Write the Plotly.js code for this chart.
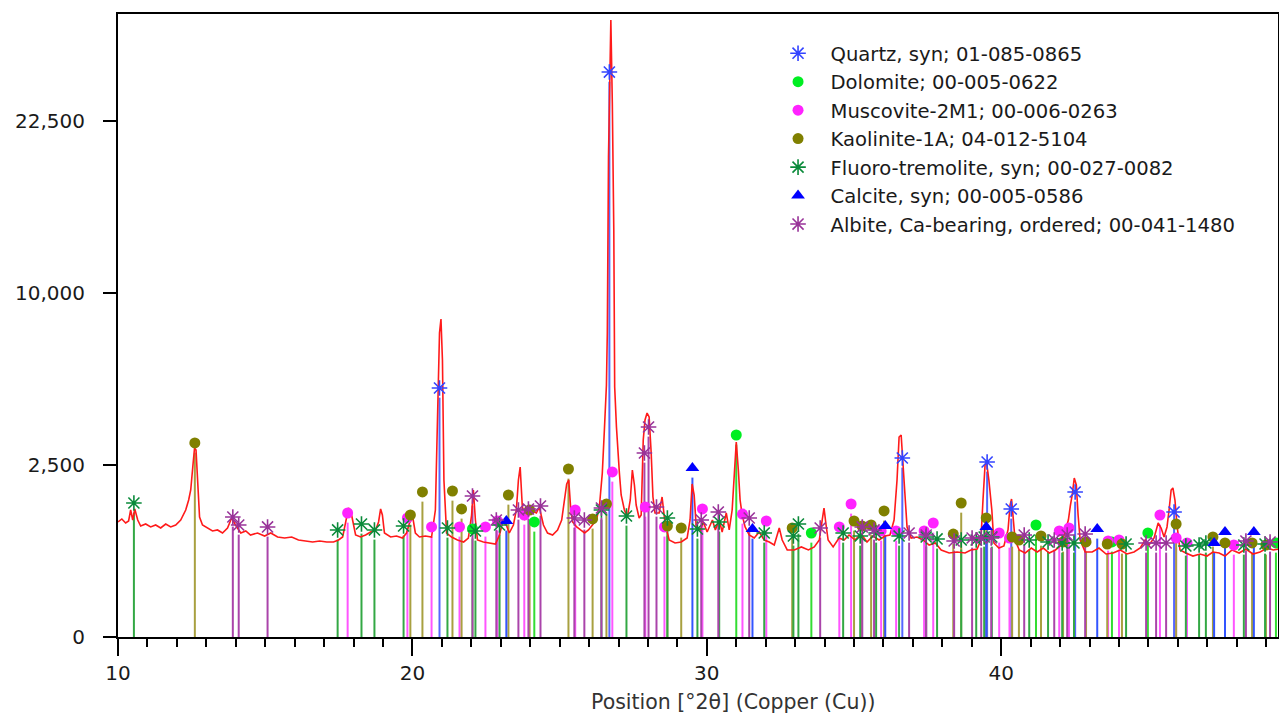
<!DOCTYPE html>
<html><head><meta charset="utf-8">
<script src="https://cdn.plot.ly/plotly-3.0.1.min.js"></script>
<style>html,body{margin:0;padding:0;background:#fff}#chart{width:1279px;height:715px}</style>
</head><body><div id="chart"></div>
<script>
// ---------------- DATA ----------------
const patternTheta = [10.00,10.13,10.26,10.36,10.43,10.50,10.57,10.67,10.77,10.94,11.11,11.28,11.45,11.62,11.79,11.96,12.13,12.30,12.40,12.47,12.54,12.60,12.65,12.71,12.77,12.87,13.04,13.21,13.38,13.55,13.72,13.86,13.99,14.17,14.34,14.50,14.74,14.98,15.19,15.42,15.66,15.90,16.13,16.37,16.61,16.85,17.09,17.32,17.49,17.63,17.73,17.83,17.90,17.97,18.07,18.24,18.41,18.58,18.75,18.85,18.92,18.98,19.05,19.26,19.46,19.66,19.80,19.90,20.01,20.10,20.24,20.44,20.65,20.78,20.85,20.92,20.97,21.02,21.07,21.16,21.33,21.53,21.74,21.90,22.01,22.07,22.14,22.21,22.41,22.62,22.82,22.96,23.06,23.19,23.29,23.43,23.53,23.60,23.66,23.73,23.80,23.94,24.07,24.21,24.31,24.45,24.59,24.76,24.93,25.07,25.17,25.24,25.31,25.38,25.44,25.58,25.71,25.85,25.98,26.12,26.25,26.35,26.45,26.52,26.59,26.62,26.66,26.74,26.79,26.84,26.87,26.93,26.98,27.03,27.09,27.20,27.30,27.40,27.47,27.54,27.60,27.70,27.77,27.84,27.90,27.97,28.04,28.11,28.17,28.24,28.38,28.48,28.58,28.72,28.92,29.13,29.33,29.43,29.50,29.57,29.64,29.78,29.88,30.01,30.19,30.29,30.42,30.52,30.66,30.76,30.86,30.93,31.00,31.07,31.13,31.20,31.30,31.44,31.61,31.78,31.95,32.12,32.29,32.46,32.56,32.73,32.97,33.21,33.45,33.65,33.82,33.92,33.98,34.05,34.12,34.29,34.49,34.66,34.83,35.03,35.24,35.44,35.64,35.85,36.05,36.22,36.36,36.46,36.53,36.60,36.67,36.73,36.80,36.94,37.14,37.35,37.55,37.76,37.96,38.23,38.50,38.77,38.97,39.18,39.31,39.38,39.45,39.50,39.58,39.68,39.75,39.92,40.09,40.23,40.30,40.35,40.40,40.47,40.61,40.81,41.02,41.22,41.43,41.63,41.84,42.04,42.18,42.28,42.35,42.41,42.48,42.55,42.61,42.68,42.85,43.09,43.32,43.56,43.80,44.04,44.27,44.51,44.72,44.89,45.02,45.19,45.33,45.43,45.53,45.63,45.70,45.77,45.83,45.90,45.97,46.07,46.27,46.51,46.75,46.99,47.19,47.40,47.60,47.84,48.08,48.31,48.55,48.79,49.03,49.24,49.41];
const patternCounts = [1118,1177,1098,1137,1363,1157,1385,1157,1041,1079,1023,1060,1004,1079,1023,1060,1157,1363,1586,1826,2442,3019,2955,1826,1217,1060,1004,950,968,914,1004,1197,1060,914,950,879,914,862,914,845,828,845,795,779,763,779,763,763,795,845,1098,1406,1363,1157,879,845,879,932,968,1118,1385,1258,914,845,862,828,914,1098,1217,914,845,862,845,1363,4240,7810,8546,6484,2083,914,845,795,763,828,1258,1826,1157,795,763,747,731,879,1118,1060,914,1060,1363,2083,2442,1472,1157,1258,1342,1299,1428,1060,914,879,968,1157,1586,1978,2083,1363,1118,1023,968,914,968,1060,1157,1428,2273,3621,5367,7810,19470,32170,24097,13998,5282,3727,2861,2273,1704,1363,1217,1586,2357,1952,1472,1197,1258,3280,3979,4240,4090,2861,1656,1299,1299,1656,1098,795,747,763,828,1157,1978,1704,1023,968,1118,932,1157,968,1157,932,1299,968,1363,2357,3213,2357,1586,1258,1023,879,828,932,795,763,715,1004,795,640,640,685,640,685,795,1157,1406,1060,795,685,828,795,879,795,896,763,862,795,862,879,1157,2083,3380,3448,2442,1586,1023,828,845,795,715,747,640,596,611,596,640,654,795,1586,2500,2588,2083,1363,747,669,700,968,1472,1609,1157,795,640,596,669,611,669,596,640,715,968,1157,1472,1704,2136,1952,1258,795,611,611,669,582,596,640,582,611,669,795,715,828,1098,1004,845,1023,1363,1826,1876,1586,1060,640,596,554,582,554,611,596,554,640,596,654,582,611,669,640,654];

const phaseNames = [
  "Quartz, syn; 01-085-0865",
  "Dolomite; 00-005-0622",
  "Muscovite-2M1; 00-006-0263",
  "Kaolinite-1A; 04-012-5104",
  "Fluoro-tremolite, syn; 00-027-0082",
  "Calcite, syn; 00-005-0586",
  "Albite, Ca-bearing, ordered; 00-041-1480"
];

const quartzTheta  = [20.92,26.69,36.64,39.52,40.34,42.51,45.87];
const quartzCounts = [5239,26970,2708,2588,1385,1777,1320];

const dolomiteTheta  = [22.04,24.14,31.00,33.55,41.18,43.76,44.98,49.33];
const dolomiteCounts = [986,1118,3448,914,1060,763,914,747];

const muscoviteTheta  = [17.80,19.83,20.65,21.60,22.48,22.89,23.80,25.53,26.79,27.91,28.56,29.85,31.21,32.02,34.50,34.90,35.92,36.43,37.38,37.69,39.93,40.28,41.97,42.30,43.63,44.00,45.39,45.94,46.31,47.90];
const muscoviteCounts = [1299,1197,1023,1023,1023,1137,1258,1363,2301,1428,1023,1385,1278,1137,1023,1495,950,950,950,1098,914,828,950,1004,779,795,1258,828,747,715];

const kaoliniteTheta  = [12.61,19.93,20.34,21.36,21.67,23.26,23.98,25.30,26.12,26.59,28.66,29.13,32.90,35.00,35.27,35.58,36.02,38.37,38.64,39.49,40.37,40.60,41.35,42.10,42.88,43.60,44.10,45.94,47.19,47.60,48.52,48.99];
const kaoliniteCounts = [3181,1258,1777,1801,1385,1704,1363,2385,1177,1495,1041,1004,1004,1137,1041,1060,1342,896,1517,1197,845,795,862,763,763,731,731,1079,845,747,747,715];

const tremoliteTheta  = [10.54,17.46,18.27,18.71,19.70,21.19,22.14,22.96,26.42,27.27,28.66,29.68,30.42,31.95,32.94,33.11,34.63,35.21,35.75,36.53,37.45,37.82,38.64,39.15,39.42,39.68,40.95,41.59,42.07,42.47,44.24,46.27,46.72,46.95,48.24,48.96];
const tremoliteCounts = [1517,968,1079,968,1041,1004,950,1060,1363,1237,1197,986,1118,914,862,1079,914,862,914,862,845,812,795,795,845,845,795,763,747,747,731,700,715,747,715,731];

const calciteTheta  = [23.19,29.51,31.55,36.06,39.49,43.26,47.23,47.60,48.58];
const calciteCounts = [1137,2414,986,1041,1023,986,747,932,932];

const albiteTheta  = [13.90,14.10,15.08,22.04,22.85,23.60,23.94,24.35,25.50,25.84,26.42,27.88,28.02,28.29,29.81,30.39,31.44,33.85,35.28,35.68,36.87,37.45,38.40,39.01,39.32,39.66,40.78,41.80,42.24,42.85,44.92,45.26,45.60,48.31,49.13];
const albiteCounts = [1217,1060,1023,1680,1157,1363,1385,1450,1197,1157,1406,2861,3727,1428,1157,1320,1197,1004,1023,968,914,879,779,828,828,828,879,795,879,896,747,747,747,779,763];

const yTickCounts = [0, 2500, 10000, 22500];
const xTickValues = [10, 20, 30, 40];
const xAxisTitle = "Position [°2θ] (Copper (Cu))";

// ---------------- STYLE ----------------
const phaseData = [
  [quartzTheta, quartzCounts],
  [dolomiteTheta, dolomiteCounts],
  [muscoviteTheta, muscoviteCounts],
  [kaoliniteTheta, kaoliniteCounts],
  [tremoliteTheta, tremoliteCounts],
  [calciteTheta, calciteCounts],
  [albiteTheta, albiteCounts]
];
const phaseStyle = [
  {marker:'#3344ff', stick:'#5566ff', symbol:'asterisk-open', size:13},
  {marker:'#00ee22', stick:'#33dd33', symbol:'circle', size:11},
  {marker:'#ff22ff', stick:'#ff55ff', symbol:'circle', size:11},
  {marker:'#808000', stick:'#a8a040', symbol:'circle', size:11},
  {marker:'#0a8a3a', stick:'#33a844', symbol:'asterisk-open', size:13},
  {marker:'#0000ff', stick:'#3355ff', symbol:'triangle-up', size:12},
  {marker:'#993399', stick:'#aa44aa', symbol:'asterisk-open', size:13}
];
const FONT = 'DejaVu Sans, Verdana, sans-serif';
const STICK_GAP = 2.8; // gap between stick top and marker (sqrt units)
const sq = v => Math.sqrt(v);

const traces = [];
// sticks
phaseData.forEach((d, i) => {
  const xs = [], ys = [];
  d[0].forEach((t, j) => {
    xs.push(t, t, null);
    ys.push(0, Math.max(0, sq(d[1][j]) - STICK_GAP), null);
  });
  traces.push({type:'scatter', mode:'lines', x:xs, y:ys, showlegend:false, hoverinfo:'skip',
    line:{color:phaseStyle[i].stick, width:2}, cliponaxis:true});
});
// pattern
traces.push({type:'scatter', mode:'lines', x:patternTheta, y:patternCounts.map(sq),
  showlegend:false, line:{color:'#ff1a1a', width:1.6}});
// markers
phaseData.forEach((d, i) => {
  const st = phaseStyle[i];
  const isOpen = st.symbol.indexOf('open') >= 0;
  traces.push({type:'scatter', mode:'markers', x:d[0], y:d[1].map(sq),
    name:'\u00a0\u00a0' + phaseNames[i], showlegend:true, cliponaxis:false,
    marker:{symbol:st.symbol, size:st.size, color:st.marker,
      line:{color:st.marker, width:isOpen ? 1.6 : 0}}});
});

const layout = {
  width:1279, height:715,
  margin:{l:118, r:1, t:14, b:78, pad:0},
  paper_bgcolor:'#fff', plot_bgcolor:'#fff',
  font:{family:FONT, color:'#1a1a1a'},
  showlegend:true,
  legend:{x:0.569, xanchor:'left', y:0.968, yanchor:'top', bgcolor:'rgba(0,0,0,0)',
    borderwidth:0, font:{family:FONT, size:19.6, color:'#1a1a1a'}},
  xaxis:{range:[10, 49.4], tickmode:'array', tickvals:xTickValues, ticktext:xTickValues.map(String),
    ticks:'outside', ticklen:17, tickwidth:1.5, tickcolor:'#000',
    minor:{ticks:'outside', dtick:1, tick0:10, ticklen:8, tickwidth:1.5, tickcolor:'#000', showgrid:false},
    showline:true, linewidth:2, linecolor:'#000', mirror:true, showgrid:false, zeroline:false,
    tickfont:{family:FONT, size:20, color:'#1a1a1a'}},
  yaxis:{range:[0, 181.1], tickmode:'array', tickvals:yTickCounts.map(sq),
    ticktext:yTickCounts.map(v => v.toLocaleString('en-US')),
    ticks:'outside', ticklen:13, tickwidth:1.5, tickcolor:'#000', ticklabelstandoff:14,
    showline:true, linewidth:2, linecolor:'#000', mirror:true, showgrid:false, zeroline:false,
    tickfont:{family:FONT, size:20, color:'#1a1a1a'}},
  annotations:[{text:xAxisTitle, xref:'paper', yref:'paper', x:0.530, y:-0.104,
    xanchor:'center', yanchor:'middle', showarrow:false,
    font:{family:FONT, size:20.5, color:'#333'}}]
};

Plotly.newPlot('chart', traces, layout, {displayModeBar:false, responsive:false});
</script>
</body></html>
